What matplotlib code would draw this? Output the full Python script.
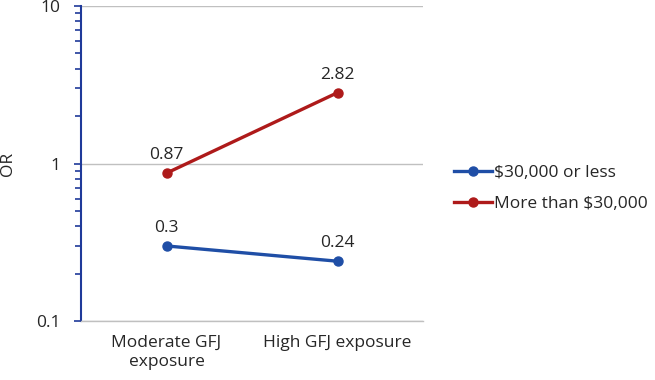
import matplotlib
matplotlib.use("Agg")
import matplotlib.pyplot as plt
from matplotlib.ticker import LogLocator, NullFormatter, FixedLocator, FixedFormatter

plt.rcParams["font.family"] = ["Open Sans", "DejaVu Sans"]

categories = ["Moderate GFJ\nexposure", "High GFJ exposure"]
low_income = [0.3, 0.24]
high_income = [0.87, 2.82]
low_labels = ["0.3", "0.24"]
high_labels = ["0.87", "2.82"]

BLUE = "#1f4ea6"
RED = "#ae1a1a"
AXIS = "#1f3a9a"
GRID = "#c0c0c0"
TXT = "#262626"
FS = 12.5

fig = plt.figure(figsize=(6.55, 3.80), dpi=100)
ax = fig.add_axes([0.1237, 0.155, 0.5221, 0.829])

x = list(range(len(categories)))
ax.plot(x, low_income, "o-", color=BLUE, lw=2.4, ms=6.5, label="$30,000 or less", zorder=3)
ax.plot(x, high_income, "o-", color=RED, lw=2.4, ms=6.5, label="More than $30,000", zorder=3)

for xi, v, s in zip(x, low_income, low_labels):
    ax.annotate(s, (xi, v), xytext=(0, 7), textcoords="offset points",
                ha="center", va="bottom", fontsize=FS, color=TXT)
for xi, v, s in zip(x, high_income, high_labels):
    ax.annotate(s, (xi, v), xytext=(0, 7), textcoords="offset points",
                ha="center", va="bottom", fontsize=FS, color=TXT)

ax.set_yscale("log")
ax.set_ylim(0.1, 10)
ax.set_xlim(-0.5, 1.5)
ax.yaxis.set_major_locator(FixedLocator([0.1, 1, 10]))
ax.yaxis.set_major_formatter(FixedFormatter(["0.1", "1", "10"]))
ax.yaxis.set_minor_locator(LogLocator(base=10, subs=range(2, 10)))
ax.yaxis.set_minor_formatter(NullFormatter())
ax.tick_params(axis="y", which="major", length=5, width=1.2, color=AXIS,
               labelsize=FS, labelcolor=TXT, pad=10)
ax.tick_params(axis="y", which="minor", length=4, width=1.2, color=AXIS)
ax.set_xticks(x)
ax.set_xticklabels(categories, fontsize=FS, color=TXT, linespacing=1.25)
ax.tick_params(axis="x", length=0, pad=10)

ax.grid(axis="y", which="major", color=GRID, lw=1)
for side in ["top", "right"]:
    ax.spines[side].set_visible(False)
ax.spines["left"].set_color(AXIS)
ax.spines["left"].set_linewidth(1.5)
ax.spines["bottom"].set_color(GRID)
ax.spines["bottom"].set_linewidth(1)

ax.set_ylabel("OR", fontsize=FS, color=TXT)
ax.yaxis.set_label_coords(-0.19, 0.5)

fig.legend(loc="center left", bbox_to_anchor=(0.682, 0.504), frameon=False,
           fontsize=FS, handlelength=2.2, handletextpad=0.15, labelspacing=0.85,
           labelcolor=TXT, borderaxespad=0)

fig.savefig("out.png", dpi=100)
